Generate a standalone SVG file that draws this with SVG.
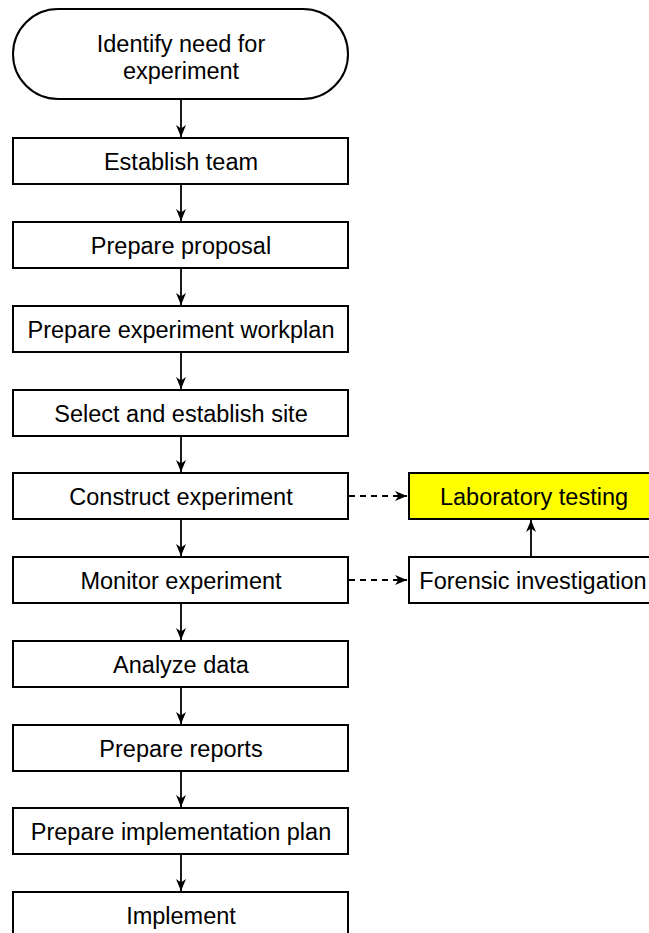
<svg xmlns="http://www.w3.org/2000/svg" width="649" height="933" viewBox="0 0 649 933">
<style>
.box{fill:#fff;stroke:#000;stroke-width:2}
.hl{fill:#ffff00;stroke:#000;stroke-width:2}
.t{font-family:"Liberation Sans",Arial,sans-serif;font-size:23.5px;fill:#000;text-anchor:middle}
.c{fill:none;stroke:#000;stroke-width:1.8}
.d{stroke-dasharray:6,5}
</style>
<defs>
<marker id="ah" markerUnits="userSpaceOnUse" markerWidth="14" markerHeight="12" refX="12" refY="6" orient="auto">
<path d="M0,1 L12,6 L0,11 L3.5,6 z" fill="#000"/>
</marker>
</defs>
<rect width="649" height="933" fill="#fff"/>
<g id="connectors">
<line class="c" x1="181" y1="100" x2="181" y2="137" marker-end="url(#ah)"/>
<line class="c" x1="181" y1="184" x2="181" y2="221" marker-end="url(#ah)"/>
<line class="c" x1="181" y1="268" x2="181" y2="305" marker-end="url(#ah)"/>
<line class="c" x1="181" y1="352" x2="181" y2="389" marker-end="url(#ah)"/>
<line class="c" x1="181" y1="436" x2="181" y2="472" marker-end="url(#ah)"/>
<line class="c" x1="181" y1="519" x2="181" y2="556" marker-end="url(#ah)"/>
<line class="c" x1="181" y1="603" x2="181" y2="640" marker-end="url(#ah)"/>
<line class="c" x1="181" y1="687" x2="181" y2="724" marker-end="url(#ah)"/>
<line class="c" x1="181" y1="771" x2="181" y2="807" marker-end="url(#ah)"/>
<line class="c" x1="181" y1="854" x2="181" y2="891" marker-end="url(#ah)"/>
<line class="c d" x1="349" y1="496" x2="407" y2="496" marker-end="url(#ah)"/>
<line class="c d" x1="349" y1="580" x2="407" y2="580" marker-end="url(#ah)"/>
<line class="c" x1="531" y1="557" x2="531" y2="520" marker-end="url(#ah)"/>
</g>
<g id="n1"><rect class="box" x="13" y="9" width="335" height="90" rx="45" ry="45"/><text class="t" x="181" y="52">Identify need for</text><text class="t" x="181" y="79">experiment</text></g>
<g id="n2"><rect class="box" x="13" y="138" width="335" height="46"/><text class="t" x="181" y="170">Establish team</text></g>
<g id="n3"><rect class="box" x="13" y="222" width="335" height="46"/><text class="t" x="181" y="254">Prepare proposal</text></g>
<g id="n4"><rect class="box" x="13" y="306" width="335" height="46"/><text class="t" x="181" y="338">Prepare experiment workplan</text></g>
<g id="n5"><rect class="box" x="13" y="390" width="335" height="46"/><text class="t" x="181" y="422">Select and establish site</text></g>
<g id="n6"><rect class="box" x="13" y="473" width="335" height="46"/><text class="t" x="181" y="505">Construct experiment</text></g>
<g id="n7"><rect class="box" x="13" y="557" width="335" height="46"/><text class="t" x="181" y="589">Monitor experiment</text></g>
<g id="n8"><rect class="box" x="13" y="641" width="335" height="46"/><text class="t" x="181" y="673">Analyze data</text></g>
<g id="n9"><rect class="box" x="13" y="725" width="335" height="46"/><text class="t" x="181" y="757">Prepare reports</text></g>
<g id="n10"><rect class="box" x="13" y="808" width="335" height="46"/><text class="t" x="181" y="840">Prepare implementation plan</text></g>
<g id="n11"><rect class="box" x="13" y="892" width="335" height="46"/><text class="t" x="181" y="924">Implement</text></g>
<g id="n12"><rect class="hl" x="409" y="473" width="248" height="46"/><text class="t" x="534" y="505">Laboratory testing</text></g>
<g id="n13"><rect class="box" x="409" y="557" width="248" height="46"/><text class="t" x="533" y="589">Forensic investigation</text></g>
</svg>
